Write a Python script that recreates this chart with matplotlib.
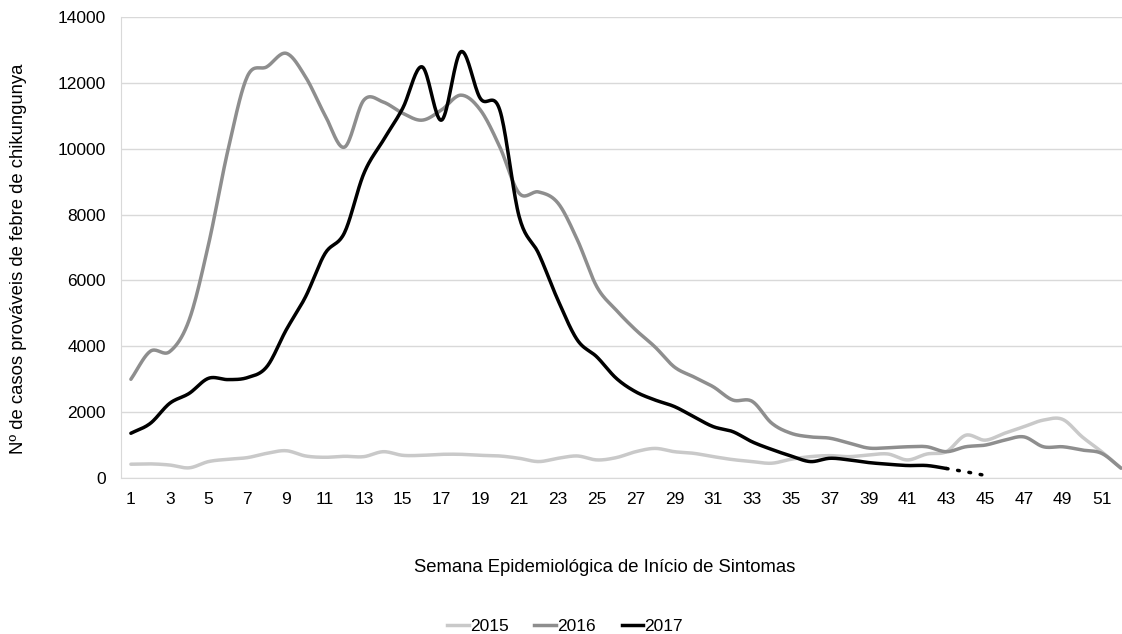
import numpy as np
import matplotlib.pyplot as plt
from matplotlib.lines import Line2D

plt.rcParams['font.family'] = ['Liberation Sans', 'DejaVu Sans']

weeks = list(range(1, 53))

casos_2015 = [420, 430, 395, 310, 500, 570, 620, 750, 830, 670,
              630, 660, 650, 800, 690, 690, 720, 720, 690, 670,
              600, 500, 600, 670, 550, 620, 800, 900, 800, 750,
              650, 560, 500, 450, 570, 650, 680, 650, 700, 730,
              550, 730, 800, 1300, 1150, 1360, 1560, 1760, 1780, 1250,
              800, 300]

casos_2016 = [3000, 3850, 3840, 4800, 7100, 9960, 12200, 12490, 12900, 12180,
              11020, 10050, 11480, 11420, 11080, 10870, 11180, 11630, 11180, 10060,
              8650, 8690, 8350, 7230, 5810, 5100, 4500, 3980, 3370, 3070,
              2770, 2370, 2330, 1670, 1360, 1250, 1210, 1060, 910, 920,
              950, 950, 800, 950, 1000, 1150, 1250, 950, 950, 850,
              750, 300]

weeks_2017 = list(range(1, 44))
casos_2017 = [1360, 1660, 2270, 2570, 3030, 2990, 3050, 3380, 4500, 5510,
              6820, 7450, 9250, 10260, 11230, 12490, 10870, 12950, 11530, 11180,
              7940, 6820, 5400, 4190, 3680, 3030, 2620, 2370, 2170, 1860,
              1560, 1410, 1100, 870, 670, 500, 600, 550, 470, 420,
              380, 380, 290]
# trailing weeks still being reported (dotted)
weeks_2017_tail = [43, 44, 45]
casos_2017_tail = [290, 190, 80]

xticks = list(range(1, 53, 2))


def smooth(x, y, n=20):
    # catmull-rom curve through the weekly points, like the smoothed excel line
    x = np.asarray(x, float)
    y = np.asarray(y, float)
    px = np.concatenate([[2 * x[0] - x[1]], x, [2 * x[-1] - x[-2]]])
    py = np.concatenate([[2 * y[0] - y[1]], y, [2 * y[-1] - y[-2]]])
    xs, ys = [], []
    t = np.linspace(0, 1, n, endpoint=False)
    for i in range(1, len(px) - 2):
        for p, out in ((px, xs), (py, ys)):
            p0, p1, p2, p3 = p[i - 1], p[i], p[i + 1], p[i + 2]
            out.extend(0.5 * (2 * p1 + (-p0 + p2) * t
                              + (2 * p0 - 5 * p1 + 4 * p2 - p3) * t ** 2
                              + (-p0 + 3 * p1 - 3 * p2 + p3) * t ** 3))
    xs.append(x[-1])
    ys.append(y[-1])
    return np.array(xs), np.array(ys)


fig = plt.figure(figsize=(11.22, 6.34), dpi=100)
ax = fig.add_axes([0.108, 0.246, 0.892, 0.727])

c15, c16, c17 = '#c9c9c9', '#8e8e8e', '#000000'
lw = 2.5

ax.plot(*smooth(weeks, casos_2015), color=c15, lw=lw, solid_capstyle='round')
ax.plot(*smooth(weeks, casos_2016), color=c16, lw=lw, solid_capstyle='round')
ax.plot(*smooth(weeks_2017, casos_2017), color=c17, lw=lw, solid_capstyle='round')
ax.plot(*smooth(weeks_2017_tail, casos_2017_tail), color=c17, lw=lw,
        linestyle=(0, (0.5, 2.8)), dash_capstyle='round')

ax.set_xlim(0.5, 52.05)
ax.set_ylim(0, 14000)
ax.set_yticks(range(0, 14001, 2000))
ax.set_xticks(xticks)
ax.grid(axis='y', color='#d9d9d9', lw=1)
ax.set_axisbelow(True)
for s in ['top', 'right']:
    ax.spines[s].set_visible(False)
ax.spines['left'].set_color('#d9d9d9')
ax.spines['bottom'].set_color('#d9d9d9')
ax.tick_params(length=0, labelsize=12.5, colors='#000000')
ax.tick_params(axis='y', pad=11)
ax.tick_params(axis='x', pad=10)

fig.text(19 / 1122, 1 - 259 / 634, 'Nº de casos prováveis de febre de chikungunya',
         rotation=90, ha='center', va='center', fontsize=13.3)
fig.text(605 / 1122, 1 - 568 / 634, 'Semana Epidemiológica de Início de Sintomas',
         ha='center', va='center', fontsize=13.3)

handles = [Line2D([], [], color=c, lw=lw) for c in (c15, c16, c17)]
fig.legend(handles, ['2015', '2016', '2017'], loc='center', bbox_to_anchor=(565 / 1122, 0.012),
           ncol=3, frameon=False, fontsize=12.5, handlelength=1.25, handletextpad=0.05,
           columnspacing=1.5)

fig.savefig('out.png', dpi=100)
